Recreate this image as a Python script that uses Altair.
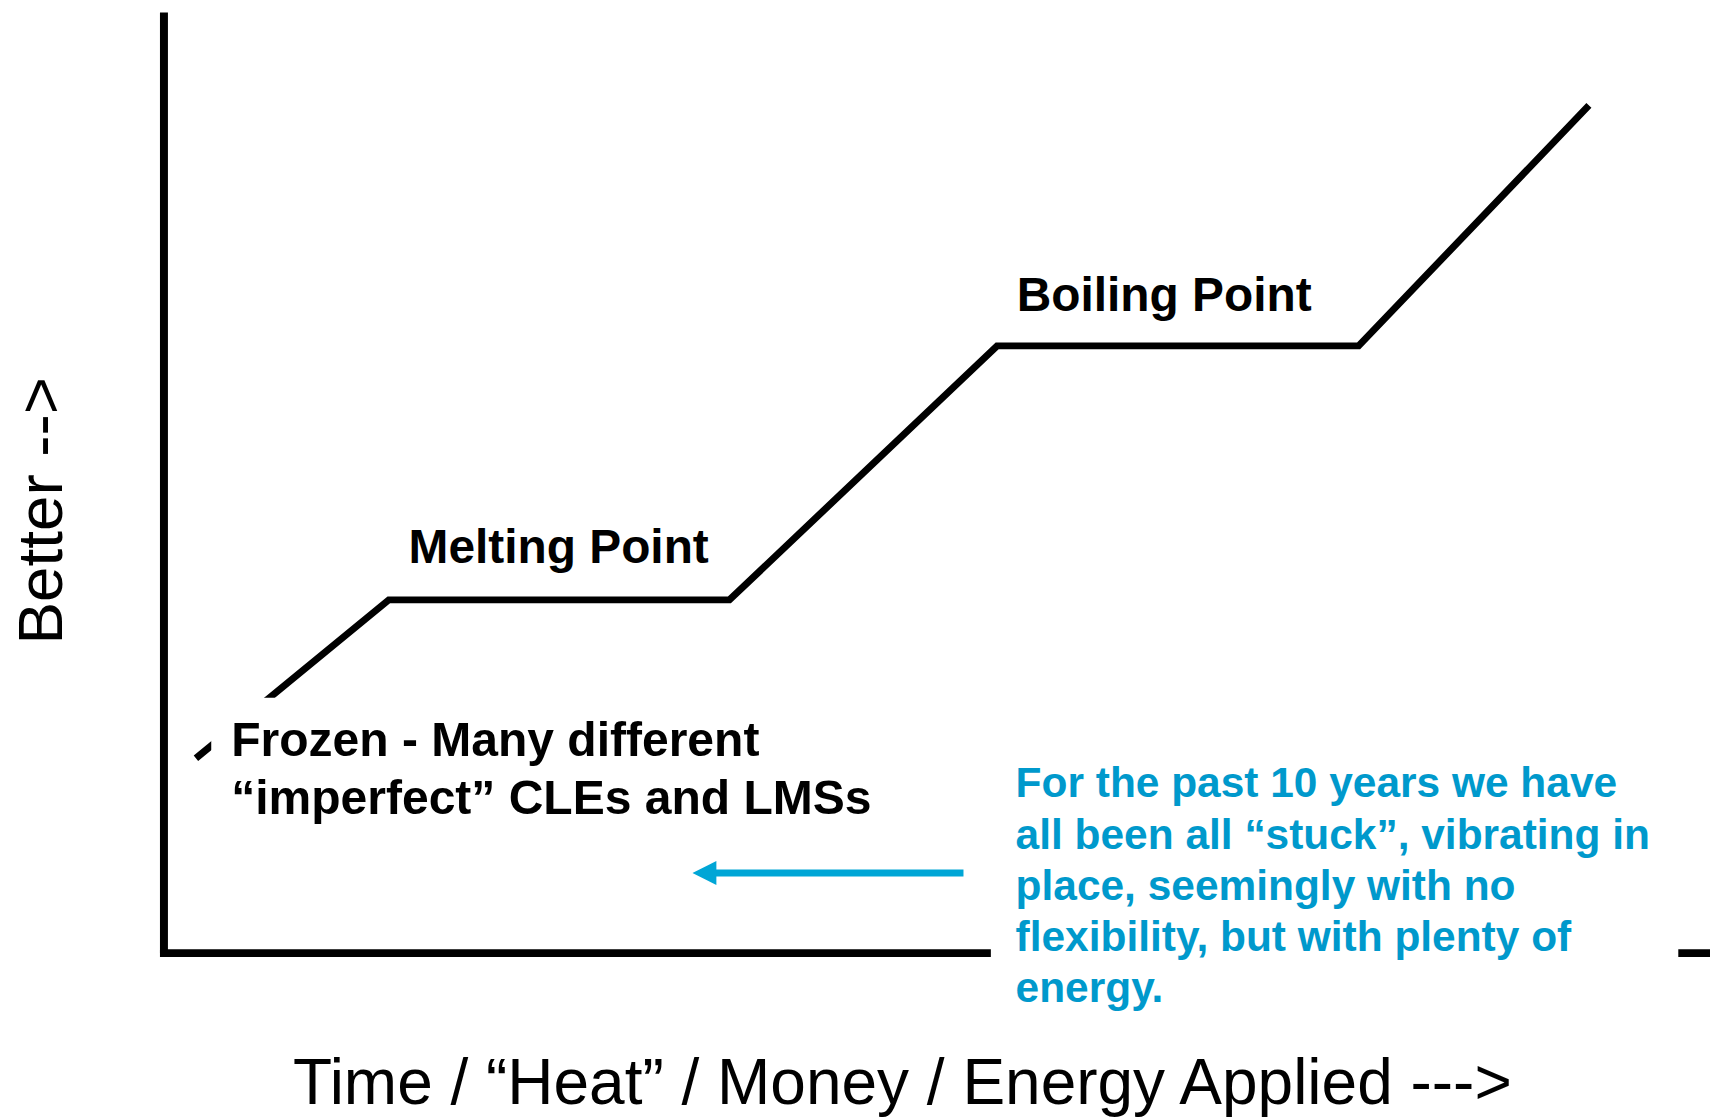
import altair as alt
import pandas as pd

# ---- data (x: time/heat applied 0..100, y: better 0..100) ----
curve_time = [2.1, 14.57, 36.6, 53.9, 77.28, 92.17]
curve_better = [20.66, 37.5, 37.5, 64.5, 64.5, 90.06]

x_title = "Time / “Heat” / Money / Energy Applied --->"
y_title = "Better -->"

label_text = ["Melting Point", "Boiling Point"]
label_x = [15.85, 55.17]
label_y = [41.4, 68.2]

frozen_lines = ["Frozen - Many different", "“imperfect” CLEs and LMSs"]
frozen_x = [4.38]
frozen_y = [20.87]

note_lines = [
    "For the past 10 years we have",
    "all been all “stuck”, vibrating in",
    "place, seemingly with no",
    "flexibility, but with plenty of",
    "energy.",
]
note_x = [55.1]
note_y = [16.5]

arrow_from = [51.73]
arrow_to = [34.98]
arrow_y = [8.47]

# white backing boxes of the two text blocks
box_x1 = [3.09, 53.5]
box_x2 = [46.8, 97.95]
box_y1 = [27.1, 20.6]
box_y2 = [13.1, -7.0]

BLUE_TEXT = "#0099CC"
BLUE_ARROW = "#00A6D6"
FONT = "Liberation Sans"

xs = alt.Scale(domain=[0, 100], nice=False, zero=False)
ys = alt.Scale(domain=[0, 100], nice=False, zero=False)

curve_df = pd.DataFrame({"x": curve_time, "y": curve_better})
labels_df = pd.DataFrame({"x": label_x, "y": label_y, "t": label_text})
frozen_df = pd.DataFrame({"x": frozen_x, "y": frozen_y, "t": [frozen_lines]})
note_df = pd.DataFrame({"x": note_x, "y": note_y, "t": [note_lines]})
arrow_df = pd.DataFrame({"x": arrow_from, "x2": arrow_to, "y": arrow_y})
box_df = pd.DataFrame({"x": box_x1, "x2": box_x2, "y": box_y1, "y2": box_y2})

x_axis = alt.Axis(
    domain=True, domainColor="black", domainWidth=8, domainCap="square",
    ticks=False, labels=False, grid=False,
    title=x_title, titleFont=FONT, titleFontSize=64.2, titleFontWeight="normal",
    titleColor="black", titleX=741, titleY=151, titleAlign="center",
    titleBaseline="alphabetic", titleAngle=0,
)
y_axis = alt.Axis(
    domain=True, domainColor="black", domainWidth=8, domainCap="butt",
    ticks=False, labels=False, grid=False,
    title=y_title, titleFont=FONT, titleFontSize=64, titleFontWeight="normal",
    titleColor="black", titleX=-102, titleY=500, titleAlign="center",
    titleBaseline="alphabetic", titleAngle=270,
)

X = alt.X("x:Q", scale=xs, axis=x_axis)
Y = alt.Y("y:Q", scale=ys, axis=y_axis)

curve = alt.Chart(curve_df).mark_line(
    color="black", strokeWidth=7, strokeJoin="miter", strokeCap="butt"
).encode(x=X, y=Y)

boxes = alt.Chart(box_df).mark_rect(fill="white", strokeWidth=0).encode(
    x=X, x2="x2:Q", y=Y, y2="y2:Q",
)

labels = alt.Chart(labels_df).mark_text(
    font=FONT, fontSize=48, fontWeight="bold", color="black",
    align="left", baseline="alphabetic",
).encode(x=X, y=Y, text="t")

frozen = alt.Chart(frozen_df).mark_text(
    font=FONT, fontSize=48.2, fontWeight="bold", color="black",
    align="left", baseline="alphabetic", lineHeight=58,
).encode(x=X, y=Y, text="t")

note = alt.Chart(note_df).mark_text(
    font=FONT, fontSize=42.6, fontWeight="bold", color=BLUE_TEXT,
    align="left", baseline="alphabetic", lineHeight=51.3,
).encode(x=X, y=Y, text="t")

arrow_shaft = alt.Chart(arrow_df).mark_rule(
    color=BLUE_ARROW, strokeWidth=7, strokeCap="butt"
).encode(x=X, x2="x2:Q", y=Y)

arrow_head = alt.Chart(arrow_df).mark_point(
    shape="M-1,0L1,-1L1,1Z", size=576, filled=True, color=BLUE_ARROW, opacity=1
).encode(x=alt.X("x2:Q", scale=xs, axis=x_axis), y=Y)

chart = alt.layer(
    curve, boxes, labels, frozen, note, arrow_shaft, arrow_head
).properties(
    width=1552, height=944,
    padding={"left": 156, "top": 2, "right": 0, "bottom": 165},
    autosize=alt.AutoSizeParams(type="none"),
    background="white",
).configure_view(strokeWidth=0)

chart.save("out.html", embed_options={"renderer": "svg", "actions": False})
